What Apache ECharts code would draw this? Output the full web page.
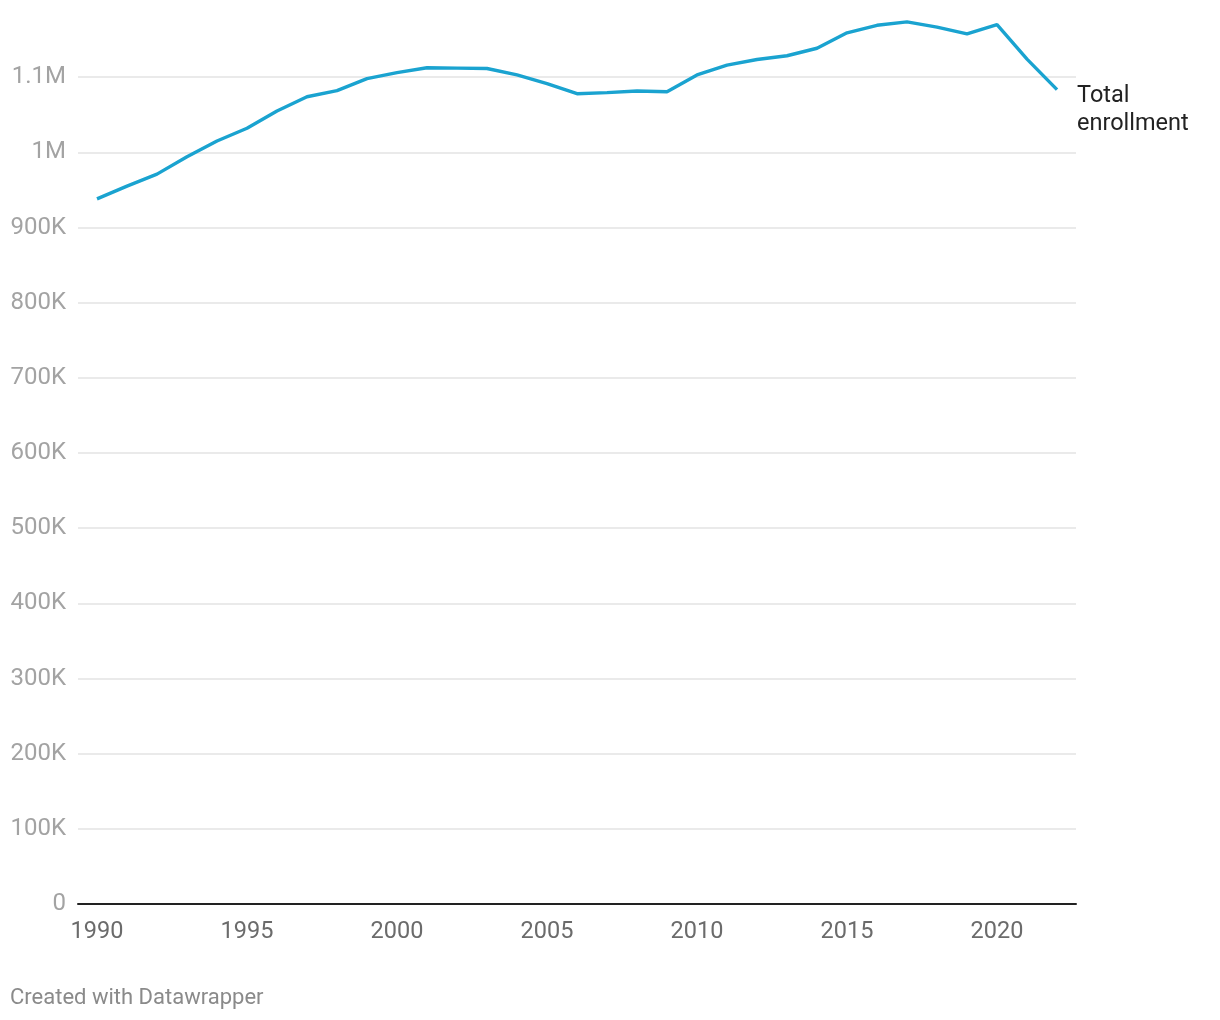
<!DOCTYPE html>
<html>
<head>
<meta charset="utf-8">
<script src="https://cdn.jsdelivr.net/npm/echarts@6/dist/echarts.min.js"></script>
<style>
html,body{margin:0;padding:0;background:#fff;}
#chart{width:1220px;height:1020px;}
</style>
</head>
<body>
<div id="chart"></div>
<script>
const years = [1990,1991,1992,1993,1994,1995,1996,1997,1998,1999,2000,2001,2002,2003,2004,2005,2006,2007,2008,2009,2010,2011,2012,2013,2014,2015,2016,2017,2018,2019,2020,2021,2022];
const enrollment = [938000,955000,971000,994000,1015000,1032000,1055000,1074000,1082000,1098000,1106000,1112500,1112000,1111500,1103000,1091500,1078000,1079500,1081500,1080500,1103000,1116000,1123500,1128500,1138500,1159000,1169000,1173500,1166500,1157500,1170000,1124000,1083500];
const xTickValues = [1990,1995,2000,2005,2010,2015,2020];
const seriesName = 'Total\nenrollment';

function fmtY(v){
  if (v === 0) return '0';
  if (v >= 1000000) return (v/1000000).toString() + 'M';
  return (v/1000) + 'K';
}

const chart = echarts.init(document.getElementById('chart'), null, {renderer:'canvas'});
chart.setOption({
  animation:false,
  backgroundColor:'#fff',
  grid:{left:78, right:144, top:2, bottom:116, containLabel:false},
  xAxis:{
    type:'value',
    min:1989.367, max:2022.633,
    axisLine:{show:true, onZero:false, lineStyle:{color:'#222', width:2}},
    axisTick:{show:false},
    splitLine:{show:false},
    axisLabel:{
      customValues:xTickValues,
      color:'#6b6b6b', fontSize:23.5, fontFamily:'Roboto', margin:16,
      formatter:v=>String(v)
    }
  },
  yAxis:{
    type:'value',
    min:0, max:1200000, interval:100000,
    axisLine:{show:false},
    axisTick:{show:false},
    splitLine:{show:true, showMinLine:false, showMaxLine:false, lineStyle:{color:'#e3e3e3', width:1.5}},
    axisLabel:{
      showMaxLabel:false,
      color:'#a3a3a3', fontSize:24, fontFamily:'Roboto', margin:12,
      padding:[4,0,0,0],
      formatter:fmtY
    }
  },
  series:[{
    type:'line',
    name:seriesName,
    data:years.map((y,i)=>[y, enrollment[i]]),
    showSymbol:false,
    lineStyle:{color:'#1aa3d0', width:3.4},
    itemStyle:{color:'#1aa3d0'},
    endLabel:{
      show:true,
      formatter:'{a}',
      color:'#222',
      fontSize:23.5,
      fontFamily:'Roboto',
      lineHeight:28,
      align:'left',
      offset:[12,21]
    }
  }],
  graphic:[{
    type:'text',
    left:10, top:987,
    style:{text:'Created with Datawrapper', fill:'#8a8a8a', fontSize:22, fontFamily:'Roboto'}
  }]
});
</script>
</body>
</html>
